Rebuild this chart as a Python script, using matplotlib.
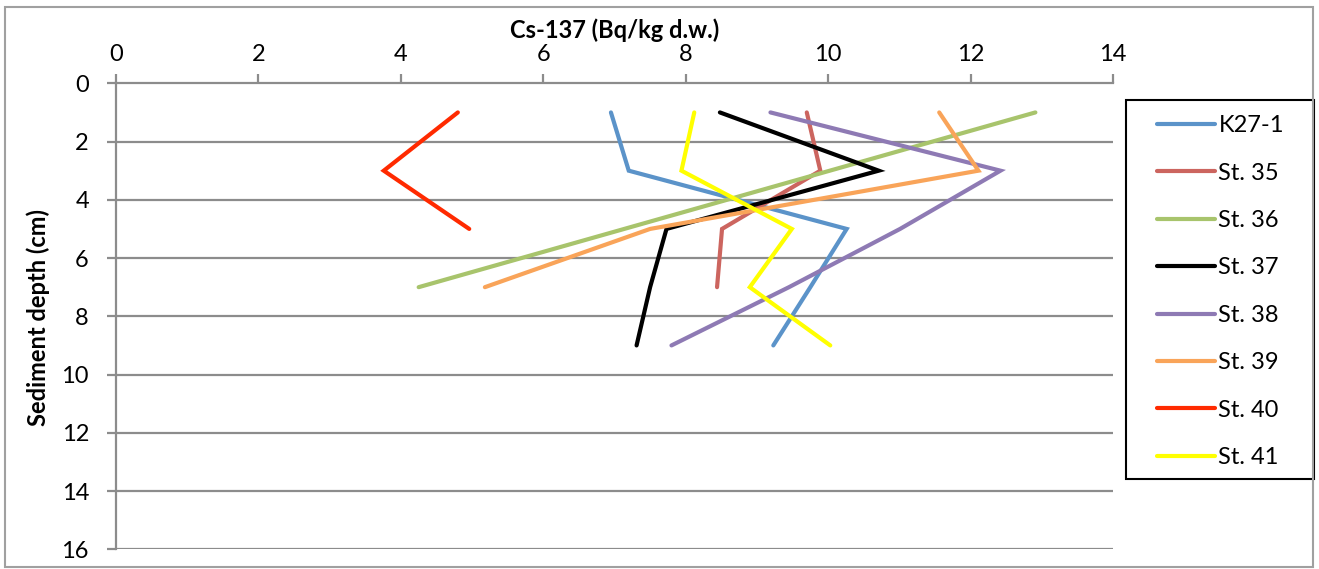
import matplotlib
matplotlib.use('Agg')
import matplotlib.pyplot as plt
from matplotlib.patches import Rectangle

plt.rcParams['font.family'] = ['Lato', 'DejaVu Sans']

# Cs-137 activity (Bq/kg d.w.) against sediment depth (cm)
k27_depth = [1, 3, 5, 7, 9]
k27_cs = [6.95, 7.20, 10.26, 9.75, 9.23]
st35_depth = [1, 3, 5, 7]
st35_cs = [9.70, 9.89, 8.51, 8.44]
st36_depth = [1, 7]
st36_cs = [12.91, 4.25]
st37_depth = [1, 3, 5, 7, 9]
st37_cs = [8.48, 10.71, 7.73, 7.50, 7.31]
st38_depth = [1, 3, 5, 7, 9]
st38_cs = [9.19, 12.42, 11.01, 9.45, 7.80]
st39_depth = [1, 3, 5, 7]
st39_cs = [11.56, 12.11, 7.50, 5.18]
st40_depth = [1, 3, 5]
st40_cs = [4.80, 3.76, 4.96]
st41_depth = [1, 3, 5, 7, 9]
st41_cs = [8.12, 7.94, 9.49, 8.90, 10.03]

series = [
    ('K27-1', k27_cs, k27_depth, '#5B93C9'),
    ('St. 35', st35_cs, st35_depth, '#CC655F'),
    ('St. 36', st36_cs, st36_depth, '#A8C46C'),
    ('St. 37', st37_cs, st37_depth, '#000000'),
    ('St. 38', st38_cs, st38_depth, '#8E7AB4'),
    ('St. 39', st39_cs, st39_depth, '#F9A459'),
    ('St. 40', st40_cs, st40_depth, '#FF2A00'),
    ('St. 41', st41_cs, st41_depth, '#FFFF00'),
]

W, H = 1319, 569
fig = plt.figure(figsize=(W / 100, H / 100), dpi=100)
ax = fig.add_axes([116 / W, 1 - 549.3 / H, (1113 - 116) / W, (549.3 - 83.3) / H])

gray = '#8C8C8C'
for y in range(2, 17, 2):
    ax.axhline(y, color=gray, lw=1.6, zorder=1)

for name, x, y, c in series:
    ax.plot(x, y, color=c, lw=3.0, label=name, solid_capstyle='round',
            solid_joinstyle='miter', zorder=3)

ax.set_xlim(0, 14)
ax.set_ylim(16, 0)
ax.set_xticks(range(0, 15, 2))
ax.set_yticks(range(0, 17, 2))
ax.xaxis.tick_top()
for s in ['right', 'bottom']:
    ax.spines[s].set_visible(False)
for s in ['left', 'top']:
    ax.spines[s].set_color(gray)
    ax.spines[s].set_linewidth(1.6)
ax.tick_params(axis='x', direction='out', length=6.5, width=1.6, color=gray,
               labelsize=17, pad=7)
ax.tick_params(axis='y', direction='out', length=6.5, width=1.6, color=gray,
               labelsize=17, pad=13)

fig.text(614.5 / W, 1 - 30 / H, 'Cs-137 (Bq/kg d.w.)', ha='center', va='center',
         fontsize=17, fontweight='bold')
fig.text(38 / W, 1 - 317 / H, 'Sediment depth (cm)', ha='center', va='center',
         rotation=90, fontsize=17, fontweight='bold')

leg = ax.legend(loc='upper left', bbox_to_anchor=(1150 / W, 1 - 108 / H),
                bbox_transform=fig.transFigure, fontsize=17, frameon=False,
                handlelength=2.45, handletextpad=0.15,
                labelspacing=1.12, borderpad=0.3, borderaxespad=0)

fig.patches.append(Rectangle((1126 / W, 1 - 479 / H), (1314 - 1126) / W,
                             (479 - 100) / H, transform=fig.transFigure,
                             fill=False, edgecolor='black', lw=1.5))
fig.patches.append(Rectangle((5 / W, 2 / H), (1313 - 5) / W, (562 - 2) / H,
                             transform=fig.transFigure, fill=False,
                             edgecolor='#A0A0A0', lw=1.5))

fig.savefig('out.png', dpi=100)
